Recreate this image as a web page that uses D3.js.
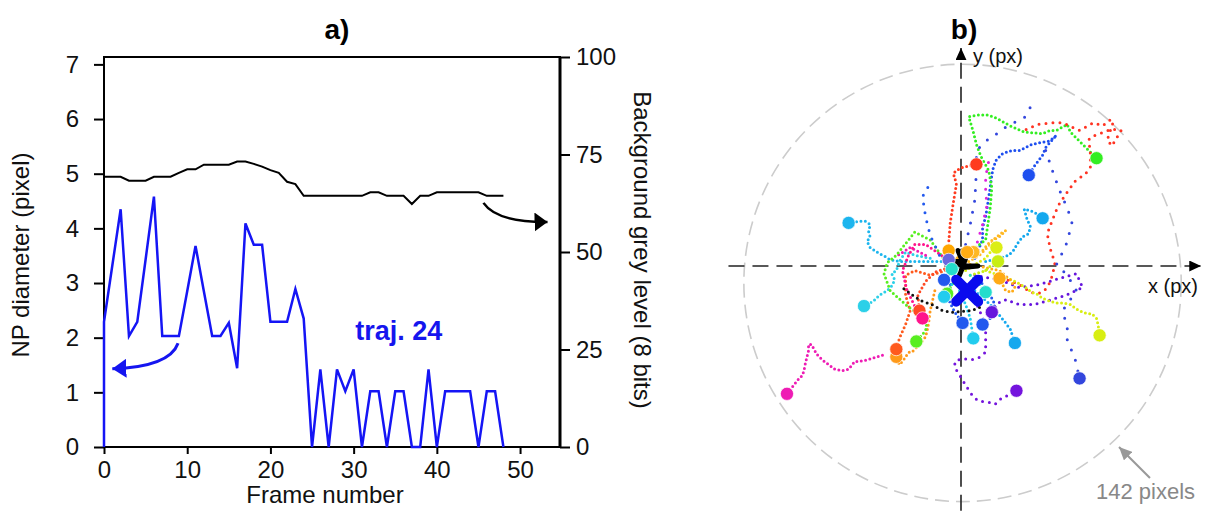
<!DOCTYPE html>
<html>
<head>
<meta charset="utf-8">
<script src="https://cdn.jsdelivr.net/npm/d3@7/dist/d3.min.js"></script>
<style>
body { margin: 0; background: #fff; }
svg text { font-family: Arial, "Liberation Sans", sans-serif; }
</style>
</head>
<body>
<script>
//panel a: traj. 24, one value per frame
var frames = [0,1,2,3,4,5,6,7,8,9,10,11,12,13,14,15,16,17,18,19,20,21,22,23,24,
    25,26,27,28,29,30,31,32,33,34,35,36,37,38,39,40,41,42,43,44,45,46,47,48];

//NP diameter (pixel), left axis
var npDiameter = [2.29,3.32,4.35,2.03,2.29,3.43,4.58,2.03,2.03,2.03,
    2.85,3.68,2.85,2.03,2.03,2.27,1.44,4.09,3.70,3.70,
    2.29,2.29,2.29,2.89,2.35,0,1.42,0,1.42,1.02,
    1.42,0,1.02,1.02,0,1.02,1.02,0,0,1.42,
    0,1.02,1.02,1.02,1.02,0,1.02,1.02,0];

//the blue curve starts from the origin
var npStart = [0, 0];

//background grey level (8 bits), right axis
var greyLevel = [69.3,69.3,69.3,68.3,68.3,68.3,69.3,69.3,69.3,70.3,
    71.2,71.2,72.4,72.4,72.4,72.4,73.2,73.2,72.6,71.9,
    71.0,70.3,68.0,67.4,64.4,64.4,64.4,64.4,64.4,64.4,
    64.4,64.4,65.3,65.3,64.4,64.4,64.4,62.3,64.4,64.4,
    65.3,65.3,65.3,65.3,65.3,65.3,64.4,64.4,64.4];

var leftTicks = [0,1,2,3,4,5,6,7];
var rightTicks = [0,25,50,75,100];
var frameTicks = [0,10,20,30,40,50];

//panel b: trajectories in px, end point last
var trajColors = ["#ff3b1f","#1e4fef","#33ee22","#ff3322","#13a8ee","#1cb5ee",
    "#2cd0e8","#ee1cb4","#ff9a1a","#ff5a1e","#58ee20","#ff4a24","#ff148c",
    "#22ccee","#2259ee","#2259ee","#6615dd","#15a8ee","#d8ee12","#3346dd",
    "#7414dd","#ffaa14","#c8ee14","#dcee14","#ffb822","#ffac14","#ffa600",
    "#6a66dd","#24ddcc","#2259ee","#24ddcc","#58ee22","#22ccee","#2259ee",
    "#dd22dd","#111111"];

var trajectories = [
    [[-7,5],[-8,15],[-7,28],[-5,41],[-3,53],[-4,57],[-5,60],[-3,62],[1,64],[10,66]],
    [[9,5],[14,17],[14,25],[16,32],[17,38],[18,45],[19,51],[20,59],[21,64],[23,69],[27,73],
        [33,75],[38,75],[46,79],[51,80],[57,81],[60,83],[62,85],[55,77],[53,72],[50,68],[47,64],[44,59]],
    [[3,7],[16,17],[18,31],[19,38],[20,51],[18,62],[13,71],[10,79],[8,87],[5,97],[11,98],[18,98],
        [23,96],[32,91],[41,87],[53,86],[58,88],[62,88],[69,92],[71,87],[76,82],[81,77],[88,70]],
    [[22,-6],[38,-12],[45,-17],[49,-18],[53,-17],[56,-14],[58,-10],[59,-7],[60,-3],[61,2],[58,11],
        [56,21],[59,29],[63,39],[69,48],[74,55],[81,60],[84,64],[84,73],[83,82],[85,84],[93,87],
        [98,89],[104,88],[98,78],[95,82],[99,94],[97,95],[92,91],[86,93],[77,88],[66,93],[60,93],[50,92],[41,88]],
    [[16,3],[25,5],[31,7],[34,10],[37,15],[40,19],[44,21],[45,26],[43,30],[41,37],[45,36],[49,34],[53,31]],
    [[-10,3],[-20,3],[-30,3],[-40,3],[-46,4],[-49,6],[-53,8],[-56,10],[-59,12],[-61,16],[-59,19],
        [-60,22],[-59,27],[-62,29],[-66,29],[-73,28]],
    [[-20,5],[-30,7],[-36,9],[-40,3],[-42,-3],[-45,-5],[-43,-9],[-45,-13],[-48,-16],[-53,-19],[-57,-23],[-63,-26]],
    [[-23,7],[-33,12],[-41,7],null,[-51,-58],[-61,-61],[-66,-62],[-69,-62],[-73,-67],[-77,-68],[-82,-67],
        [-86,-64],[-90,-61],[-93,-58],[-95,-55],[-97,-51],[-99,-51],[-99,-55],[-100,-59],[-101,-63],
        [-102,-68],[-103,-71],[-106,-74],[-113,-83]],
    [[-17,-16],[-20,-29],[-21,-37],[-22,-42],[-23,-46],[-27,-51],[-32,-56],[-34,-56],[-38,-62],[-40,-64],[-42,-59]],
    [[-10,-3],[-20,-6],[-30,-3],[-36,-6],[-36,-19],[-33,-29],[-36,-38],[-40,-47],[-42,-54]],
    [[-10,3],[-20,17],[-30,22],[-38,12],[-42,7],[-48,2],[-50,-5],[-46,-16],[-36,-25],[-27,-32],
        [-22,-35],[-23,-42],[-29,-49]],
    [[-8,-1],[-17,-4],[-23,-10],[-28,-19],[-27,-29]],
    [[-10,5],[-17,10],[-23,14],[-30,14],[-34,7],[-38,-3],[-36,-12],[-35,-16],[-33,-20],[-31,-24],[-28,-30],[-25,-34]],
    [[-1,-16],[3,-25],[6,-34],[8,-47]],
    [[-7,-12],[-8,-22],[-4,-30],[1,-37]],
    [[12,-9],[19,-19],[22,-25],[19,-34],[14,-38]],
    [[9,-6],[25,-9],[38,-14],[51,-12],[64,-8],[75,-5],[79,-14],[68,-19],[58,-22],[48,-25],[38,-25],
        [29,-22],[24,-24],[20,-30]],
    [[9,-16],[19,-25],[25,-32],[29,-37],[32,-41],[35,-50]],
    [[16,-3],[25,-6],[33,-9],[37,-11],[42,-14],[46,-17],[49,-18],[53,-21],[58,-23],[62,-24],[66,-24],
        [71,-25],[75,-28],[79,-30],[82,-31],[85,-31],[88,-34],[89,-38],[90,-45]],
    [[3,14],[6,27],[9,43],[10,62],[10,74],[14,80],[21,84],[27,89],[34,93],[41,96],[45,103],null,
        [55,75],[60,60],[63,52],[66,44],[69,38],[72,28],[70,20],[68,13],[62,1],[69,-6],[75,-16],
        [66,-29],[69,-40],[69,-48],[71,-53],[74,-60],[77,-73]],
    [[9,-22],[16,-38],[16,-48],[16,-53],[16,-56],[11,-60],[6,-61],[1,-60],[-4,-62],[-4,-66],[-2,-69],
        [1,-74],[4,-79],[6,-82],[8,-85],[12,-88],[17,-88],[22,-90],[27,-85],[31,-84],[36,-81]],
    [[6,1],[16,-1],[25,-3],[32,-9],[35,-14],[33,-17],[29,-16],[25,-8]],
    [[6,-6],[16,-3],[20,1],[24,3]],
    [[3,-3],[9,1],[16,5],[19,9],[23,12]],
    [[5,3],[12,7],[19,14],[22,18],[27,22],[29,23],[25,19],[19,16],[14,10],[8,9]],
    [[-4,3],[-1,7],[4,9]],
    [[-2,3],[-6,6],[-8,10]],
    [[-2,1],[-5,3],[-8,4]],
    [[-2,-1],[-6,-2]],
    [[-4,-3],[-8,-6],[-11,-9]],
    [[6,-6],[12,-12],[16,-17]],
    [[-4,-9],[-7,-14],[-9,-18]],
    [[-6,-12],[-10,-17],[-11,-20]],
    [[-14,7],[-20,20],[-23,32],[-25,45],[-21,52],[-18,54]],
    [[9,10],[14,27],[17,40],[16,47],[16,58],[18,68]],
    [[12,-27],[7,-29],[-6,-30],[-12,-29],[-19,-25],[-25,-23],[-30,-20],[-34,-17],[-38,-14]]
];

//trajectories drawn without an end marker
var noMarker = [3, 33, 34, 35];

//dense black cluster at the origin
var blobPoints = [[-2,10],[1,3],[-6,3],[1,0],[11,0],[1,-1],[-1,-6],[3,5],[1,10]];

//mean position (blue cross) and 142 px circle
var meanPos = [4, -16];
var circleCenter = [1, -11];
var circleRadius = 142;

//create the SVG container
var svg = d3.select("body")
    .append("svg")
    .attr("width", 1208)
    .attr("height", 514);

var defs = svg.append("defs");

//arrow heads
function addMarker(id, color, len, wid){
    defs.append("marker")
        .attr("id", id)
        .attr("viewBox", "0 0 " + len + " " + wid)
        .attr("refX", len)
        .attr("refY", wid / 2)
        .attr("markerWidth", len)
        .attr("markerHeight", wid)
        .attr("markerUnits", "userSpaceOnUse")
        .attr("orient", "auto")
        .append("path")
        .attr("d", "M0,0L" + len + "," + (wid / 2) + "L0," + wid + "Z")
        .style("fill", color)
        .style("stroke", "none");
}
addMarker("headBlue", "#1515f0", 14, 19);
addMarker("headBlack", "#000", 13, 19);
addMarker("headAxis", "#000", 12, 11);
addMarker("headGrey", "#999", 13, 12);

// ---------- panel a ----------
var x = d3.scaleLinear().domain([0, 54.8]).range([104, 560]);
var yLeft = d3.scaleLinear().domain([0, 7.135]).range([447, 57]);
var yRight = d3.scaleLinear().domain([0, 100]).range([447, 57]);

var gA = svg.append("g").attr("class", "panelA");

//axes
var axisLeft = gA.append("g")
    .attr("transform", "translate(104,0)")
    .call(d3.axisLeft(yLeft).tickValues(leftTicks).tickSize(10).tickPadding(15));

var axisBottom = gA.append("g")
    .attr("transform", "translate(0,447)")
    .call(d3.axisBottom(x).tickValues(frameTicks).tickSize(7).tickPadding(7));

var axisRight = gA.append("g")
    .attr("transform", "translate(560,0)")
    .call(d3.axisRight(yRight).tickValues(rightTicks).tickSize(10).tickPadding(6));

gA.selectAll(".domain").remove();
gA.selectAll(".tick line").style("stroke", "#000").style("stroke-width", 2);
gA.selectAll(".tick text")
    .style("font-size", "24px")
    .style("fill", "#111");

//frame of the plot
gA.append("rect")
    .attr("x", x(0))
    .attr("y", yRight(100))
    .attr("width", x(54.8) - x(0))
    .attr("height", yRight(0) - yRight(100))
    .style("fill", "none")
    .style("stroke", "#000")
    .style("stroke-width", 2);
gA.append("line")
    .attr("x1", x(54.8)).attr("x2", x(54.8))
    .attr("y1", yRight(100)).attr("y2", yRight(0))
    .style("stroke", "#000")
    .style("stroke-width", 3);

//grey level line
var greyLine = d3.line()
    .x(function(d, i){ return x(frames[i]); })
    .y(function(d){ return yRight(d); });

gA.append("path")
    .datum(greyLevel)
    .attr("d", greyLine)
    .style("fill", "none")
    .style("stroke", "#000")
    .style("stroke-width", 2);

//diameter line
var npPoints = [npStart].concat(npDiameter.map(function(d, i){ return [frames[i], d]; }));
var npLine = d3.line()
    .x(function(d){ return x(d[0]); })
    .y(function(d){ return yLeft(d[1]); });

gA.append("path")
    .datum(npPoints)
    .attr("d", npLine)
    .style("fill", "none")
    .style("stroke", "#1515f5")
    .style("stroke-width", 2.5)
    .style("stroke-linejoin", "miter");

//curved arrows towards each axis
gA.append("path")
    .attr("d", "M" + x(8.9) + "," + yLeft(1.9) + " Q" + x(7.9) + "," + yLeft(1.47) + " " + x(1.0) + "," + yLeft(1.43))
    .attr("marker-end", "url(#headBlue)")
    .style("fill", "none")
    .style("stroke", "#1515f0")
    .style("stroke-width", 3);

gA.append("path")
    .attr("d", "M" + x(45.6) + "," + yRight(62.6) + " Q" + x(47.2) + "," + yRight(57.6) + " " + x(53.3) + "," + yRight(57.7))
    .attr("marker-end", "url(#headBlack)")
    .style("fill", "none")
    .style("stroke", "#000")
    .style("stroke-width", 2.5);

//labels
gA.append("text")
    .attr("x", 337).attr("y", 39)
    .attr("text-anchor", "middle")
    .style("font-size", "28px")
    .style("font-weight", "bold")
    .text("a)");

gA.append("text")
    .attr("transform", "translate(29,255) rotate(-90)")
    .attr("text-anchor", "middle")
    .style("font-size", "24px")
    .style("fill", "#111")
    .text("NP diameter (pixel)");

gA.append("text")
    .attr("transform", "translate(634,250) rotate(90)")
    .attr("text-anchor", "middle")
    .style("font-size", "24px")
    .style("fill", "#111")
    .text("Background grey level (8 bits)");

gA.append("text")
    .attr("x", 325).attr("y", 503)
    .attr("text-anchor", "middle")
    .style("font-size", "24px")
    .style("fill", "#111")
    .text("Frame number");

gA.append("text")
    .attr("x", x(30.2)).attr("y", yLeft(1.95))
    .style("font-size", "27px")
    .style("font-weight", "bold")
    .style("fill", "#1515ee")
    .text("traj. 24");

// ---------- panel b ----------
var xB = d3.scaleLinear().domain([-150, 150]).range([961 - 231, 961 + 231]);
var yB = d3.scaleLinear().domain([-150, 150]).range([266 + 231, 266 - 231]);

var gB = svg.append("g").attr("class", "panelB");

//142 pixel circle
gB.append("circle")
    .attr("cx", xB(circleCenter[0]))
    .attr("cy", yB(circleCenter[1]))
    .attr("r", xB(circleRadius) - xB(0))
    .style("fill", "none")
    .style("stroke", "#cccccc")
    .style("stroke-width", 1.6)
    .style("stroke-dasharray", "14,7");

//dashed axes
gB.append("line")
    .attr("x1", xB(-151)).attr("x2", xB(156))
    .attr("y1", yB(0)).attr("y2", yB(0))
    .attr("marker-end", "url(#headAxis)")
    .style("stroke", "#222")
    .style("stroke-width", 1.6)
    .style("stroke-dasharray", "16,8");

gB.append("line")
    .attr("x1", xB(0)).attr("x2", xB(0))
    .attr("y1", yB(-159)).attr("y2", yB(141.5))
    .attr("marker-end", "url(#headAxis)")
    .style("stroke", "#222")
    .style("stroke-width", 1.6)
    .style("stroke-dasharray", "16,8");

//dotted trajectories
var trajLine = d3.line()
    .defined(function(d){ return d != null; })
    .x(function(d){ return xB(d[0]); })
    .y(function(d){ return yB(d[1]); });

var sparse = {3: 7, 16: 6.5, 19: 11, 20: 7, 33: 9, 34: 9, 35: 5.5};

gB.selectAll(".traj")
    .data(trajectories)
    .enter()
    .append("path")
    .attr("class", "traj")
    .attr("d", trajLine)
    .style("fill", "none")
    .style("stroke", function(d, i){ return trajColors[i]; })
    .style("stroke-width", 3)
    .style("stroke-linecap", "round")
    .style("stroke-dasharray", function(d, i){ return "0," + (sparse[i] || 4.4); });

//black cluster
gB.append("path")
    .datum(blobPoints)
    .attr("d", trajLine)
    .style("fill", "none")
    .style("stroke", "#000")
    .style("stroke-width", 5)
    .style("stroke-linejoin", "round")
    .style("stroke-linecap", "round");

//end markers
var ends = trajectories.map(function(d, i){
    return {p: d[d.length - 1], c: trajColors[i], i: i};
}).filter(function(d){ return noMarker.indexOf(d.i) < 0; });

gB.selectAll(".endPt")
    .data(ends)
    .enter()
    .append("circle")
    .attr("class", "endPt")
    .attr("cx", function(d){ return xB(d.p[0]); })
    .attr("cy", function(d){ return yB(d.p[1]); })
    .attr("r", 6.6)
    .style("fill", function(d){ return d.c; })
    .style("stroke", "#fff")
    .style("stroke-width", 0.7);

//mean position cross
var mx = xB(meanPos[0]), my = yB(meanPos[1]);
gB.append("path")
    .attr("d", "M" + (mx - 11) + "," + (my - 11) + "L" + (mx + 11) + "," + (my + 11) +
        "M" + (mx + 11) + "," + (my - 11) + "L" + (mx - 11) + "," + (my + 11))
    .style("stroke", "#0a0aee")
    .style("stroke-width", 10)
    .style("stroke-linecap", "round");

//labels
gB.append("text")
    .attr("x", 964).attr("y", 39)
    .attr("text-anchor", "middle")
    .style("font-size", "28px")
    .style("font-weight", "bold")
    .text("b)");

gB.append("text")
    .attr("x", xB(7.8)).attr("y", yB(131.5))
    .style("font-size", "20px")
    .style("fill", "#111")
    .text("y (px)");

gB.append("text")
    .attr("x", xB(121.4)).attr("y", yB(-17.5))
    .style("font-size", "20px")
    .style("fill", "#111")
    .text("x (px)");

gB.append("text")
    .attr("x", xB(87.7)).attr("y", yB(-151.3))
    .style("font-size", "22px")
    .style("fill", "#888")
    .text("142 pixels");

gB.append("line")
    .attr("x1", xB(122.7)).attr("y1", yB(-137.7))
    .attr("x2", xB(102.6)).attr("y2", yB(-117.5))
    .attr("marker-end", "url(#headGrey)")
    .style("stroke", "#999")
    .style("stroke-width", 2);
</script>
</body>
</html>
